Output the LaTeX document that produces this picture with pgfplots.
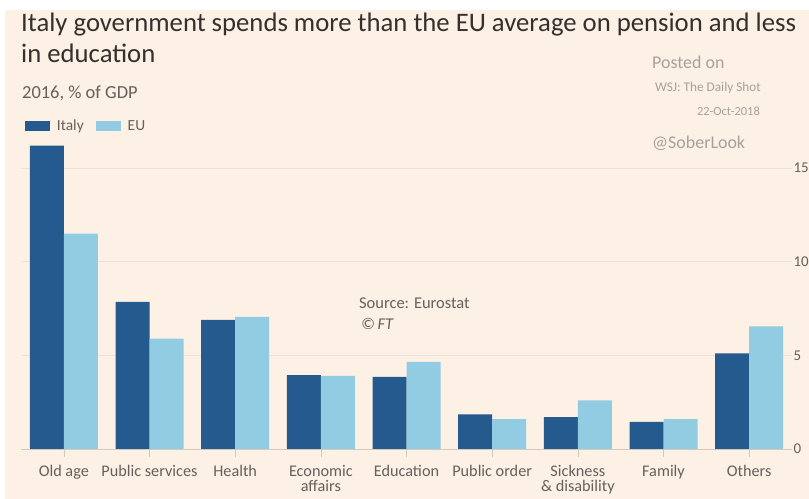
\documentclass[border=0pt]{standalone}
\usepackage{pgfplots}
\pgfplotsset{compat=1.18}
\usepackage{fontspec}
\setmainfont{Carlito}
\definecolor{ftpink}{HTML}{FDF0E5}
\definecolor{italyblue}{HTML}{245A8D}
\definecolor{eublue}{HTML}{92CCE3}
\definecolor{ftdark}{HTML}{33302E}
\definecolor{ftgrey}{HTML}{66605C}
\definecolor{ftlight}{HTML}{A8A19B}
\definecolor{gridc}{HTML}{EEE2D6}
\definecolor{basec}{HTML}{D4C9BE}
\begin{document}
\begin{tikzpicture}
\path[use as bounding box] (0,0) rectangle (809bp,499bp);
\clip (0,0) rectangle (809bp,499bp);
\fill[white] (0,0) rectangle (809bp,499bp);
\fill[ftpink] (5bp,0) rectangle (809bp,489bp);

% titles and notes
\node[anchor=base west, text=ftdark, inner sep=0] at (21bp,467bp)
  {\fontsize{26.8}{30}\selectfont Italy government spends more than the EU average on pension and less};
\node[anchor=base west, text=ftdark, inner sep=0] at (21bp,436bp)
  {\fontsize{26.8}{30}\selectfont in education};
\node[anchor=base west, text=ftgrey, inner sep=0] at (22bp,400bp)
  {\fontsize{18.5}{22}\selectfont 2016, \% of GDP};
\node[anchor=base west, text=ftlight, inner sep=0] at (652bp,430bp)
  {\fontsize{18}{22}\selectfont Posted on};
\node[anchor=base west, text=ftlight, inner sep=0] at (655bp,407bp)
  {\fontsize{13.3}{16}\selectfont WSJ: The Daily Shot};
\node[anchor=base east, text=ftlight, inner sep=0] at (760bp,383bp)
  {\fontsize{12.5}{15}\selectfont 22-Oct-2018};
\node[anchor=base west, text=ftlight, inner sep=0] at (652bp,350bp)
  {\fontsize{18}{22}\selectfont @SoberLook};
\node[anchor=base west, text=ftgrey, inner sep=0] at (359bp,190bp)
  {\fontsize{16.5}{19}\selectfont Source: Eurostat};
\node[anchor=base west, text=ftgrey, inner sep=0] at (361bp,169bp)
  {\fontsize{16.5}{19}\selectfont\itshape \textcopyright\,FT};

\begin{axis}[
    at={(21bp,50bp)}, anchor=south west,
    scale only axis,
    width=771bp, height=309bp,
    xmin=-0.5, xmax=8.5,
    ymin=0, ymax=16.5,
    ybar=0pt, bar width=34bp,
    axis x line*=bottom, axis y line*=right,
    x axis line style={draw=basec, line width=0.8pt},
    y axis line style={draw=none},
    xtick={0,...,8},
    xticklabels={Old age, Public services, Health, {Economic\\affairs}, Education, Public order, {Sickness\\\& disability}, Family, Others},
    x tick style={draw=basec, line width=0.6pt},
    major tick length=8bp,
    xtick pos=bottom,
    xticklabel style={font=\fontsize{16.3}{15}\selectfont, text=ftgrey, align=center, anchor=north, yshift=-7bp, inner ysep=1bp},
    ytick={0,5,10,15},
    y tick style={draw=none},
    yticklabel style={font=\fontsize{15}{17}\selectfont, text=ftgrey, anchor=west, xshift=-2bp},
    ymajorgrids, grid style={draw=gridc, line width=0.7pt},
    tick label style={/pgf/number format/assume math mode=true},
    legend columns=2,
    legend style={draw=none, fill=none, at={(0.001,1.045)}, anchor=west,
        font=\fontsize{15.5}{17}\selectfont, text=ftgrey,
        /tikz/every even column/.append style={column sep=10bp}},
    legend image code/.code={\fill[#1] (0bp,-5bp) rectangle (25bp,5bp);},
]
\addplot[fill=italyblue, draw=none] coordinates {
    (0,16.2) (1,7.85) (2,6.9) (3,3.95) (4,3.85) (5,1.85) (6,1.7) (7,1.45) (8,5.1)
};
\addplot[fill=eublue, draw=none] coordinates {
    (0,11.5) (1,5.9) (2,7.05) (3,3.9) (4,4.65) (5,1.6) (6,2.6) (7,1.6) (8,6.55)
};
\legend{\hspace*{5bp}Italy, \hspace*{5bp}EU}
\end{axis}
\end{tikzpicture}
\end{document}
